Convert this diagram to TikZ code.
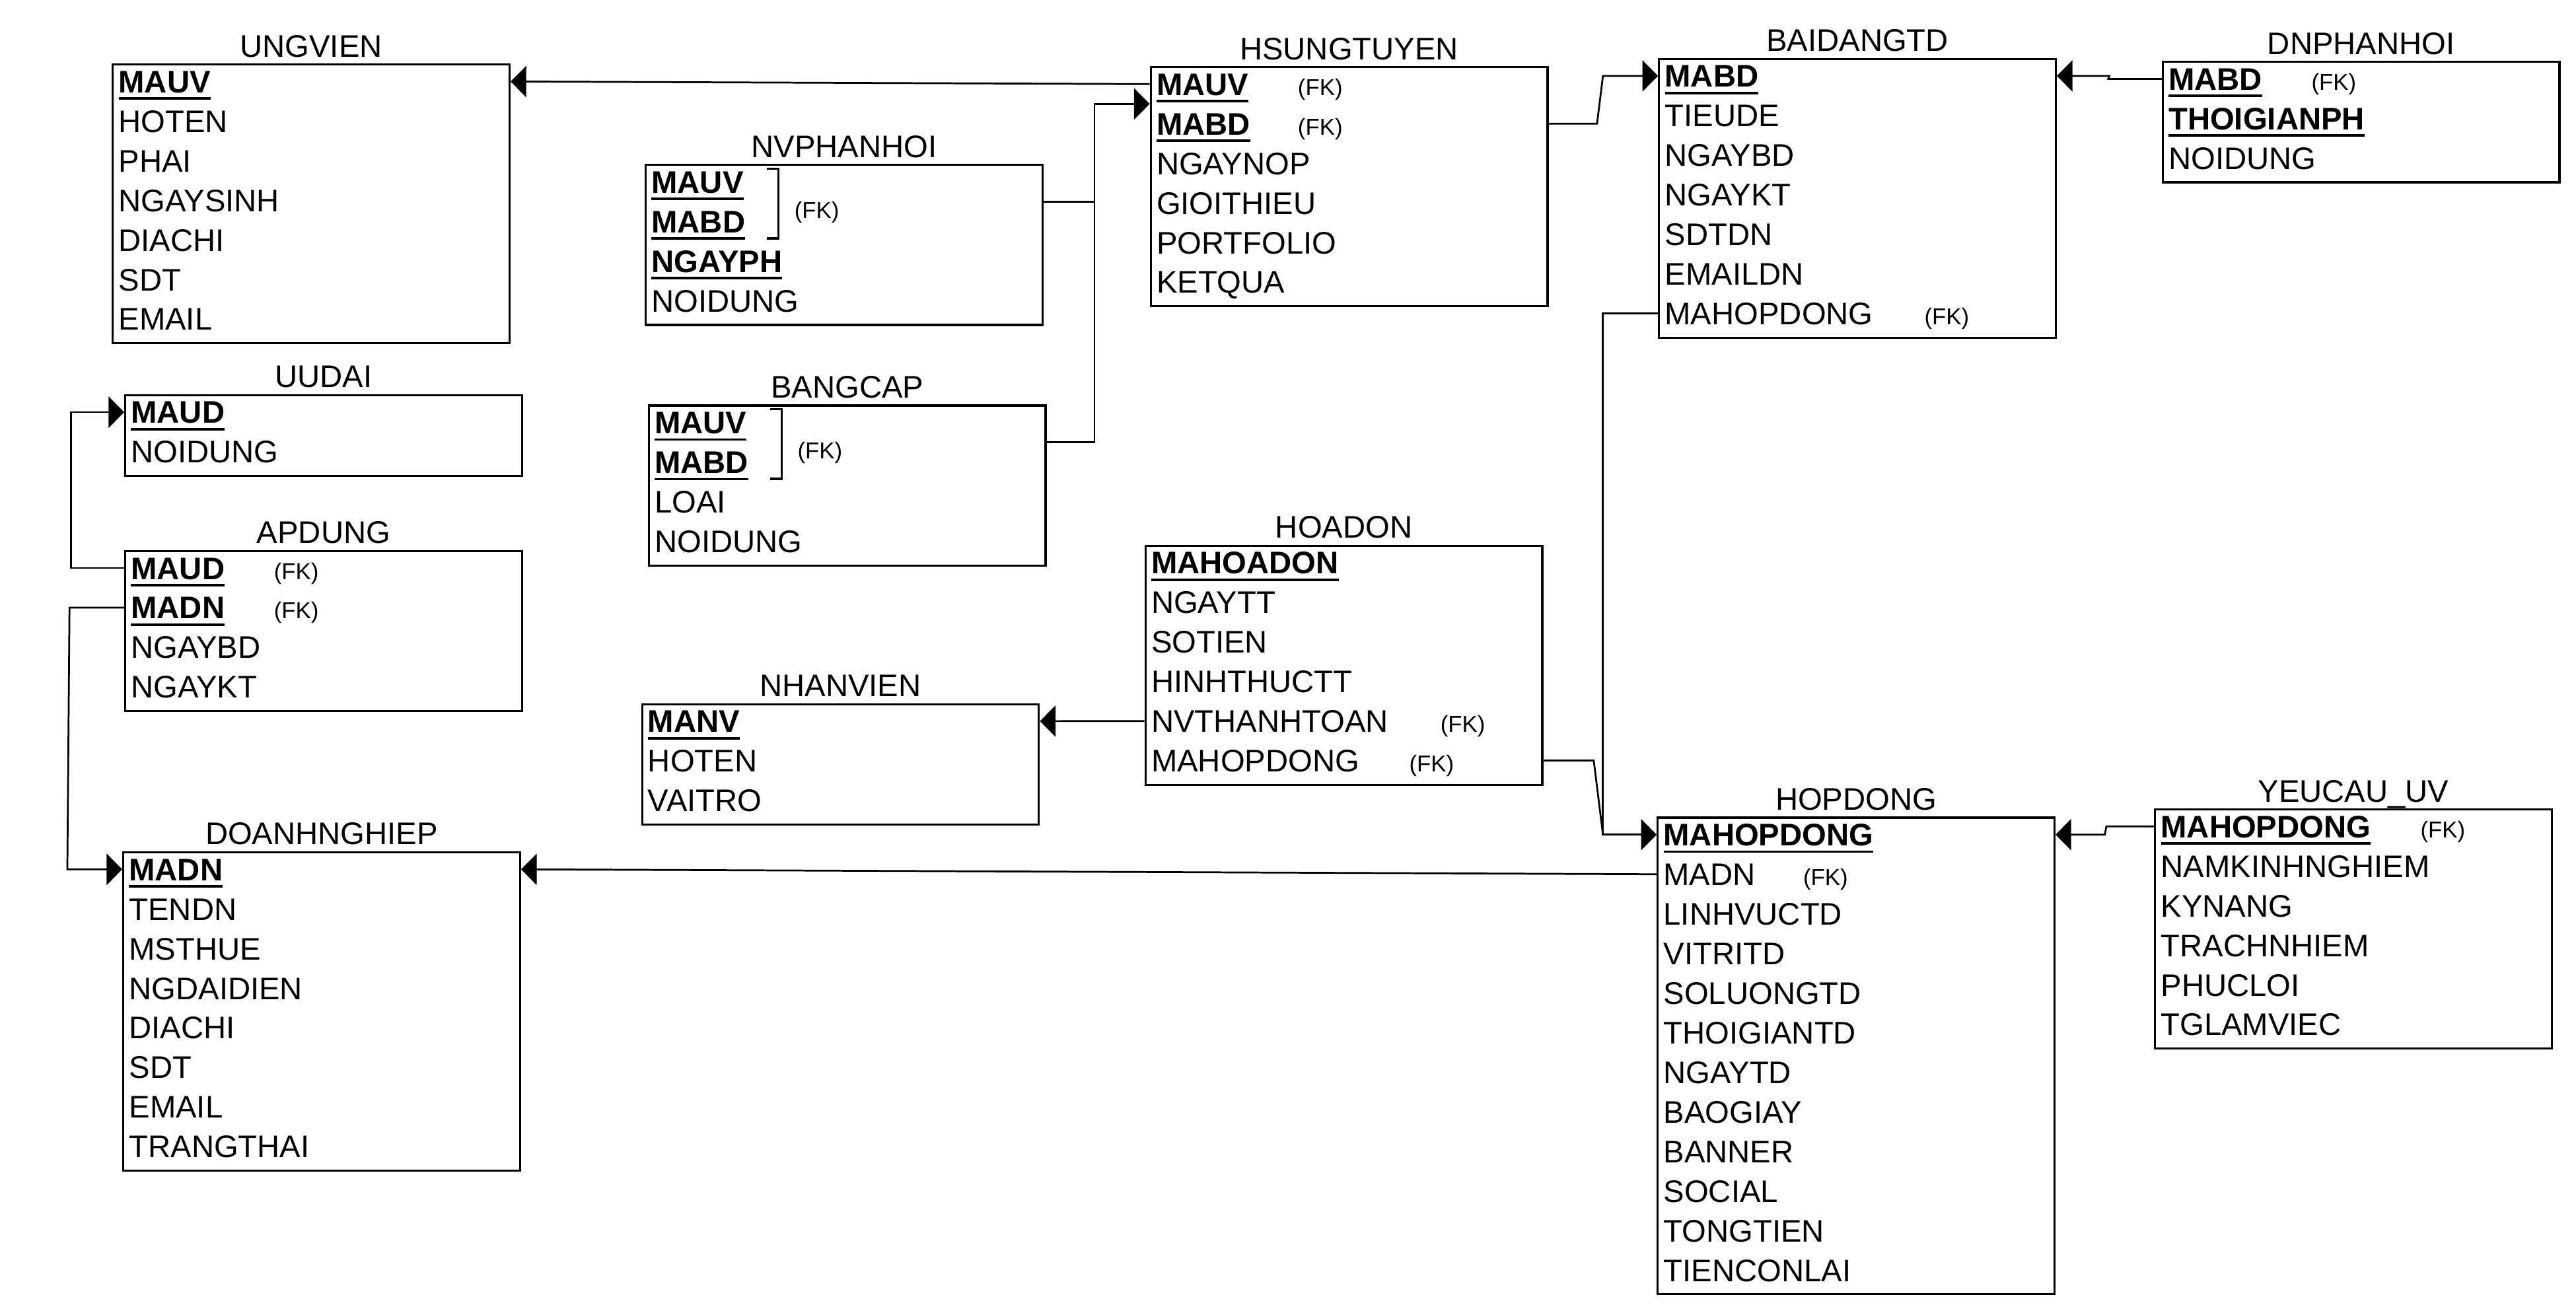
\documentclass[tikz,border=0pt]{standalone}
\usepackage{fontspec}
\setmainfont{Liberation Sans}
\usetikzlibrary{arrows.meta,calc}

% key field: bold with a thick underline
\newcommand\pkey[1]{{\bfseries\setbox0=\hbox{#1}\rlap{\vrule height -2.8pt depth 4.3pt width \wd0}\box0}}
\newcommand\fkfont{\fontsize{14}{16}\selectfont}
% field followed by (FK) at a fixed tab
\newcommand\fk[2]{\makebox[#1][l]{#2}{\fkfont(FK)}}

\tikzset{
  tbl/.style={draw, line width=1.3pt, anchor=north west, inner sep=0pt, minimum width=241.5pt},
  ttl/.style={anchor=base, inner sep=0pt, font=\fontsize{19}{24}\selectfont},
  fld/.style={anchor=base west, inner sep=0pt, text height=13.6pt, text depth=0pt, font=\fontsize{19}{24}\selectfont},
  rel/.style={line width=1.1pt},
  fkarrow/.style={rel, -{Triangle[length=9.5pt,width=19pt]}},
  brk/.style={line width=1.3pt},
}

% table: name, north west corner, title, number of fields, fields
\newcommand\entity[5]{%
  \node[tbl, minimum height=24.1pt*#4+1pt] (#1) at (#2) {};
  \node[ttl] (#1-t) at ($(#1.north)+(0,-4)$) {#3};
  \foreach \f [count=\i] in {#5}
    \node[fld] (#1\i) at ($(#1.north west)+(4,17.8+24.1*\i-24.1)$) {\f};
}

\begin{document}
\begin{tikzpicture}[x=1pt, y=-1pt]
\useasboundingbox (0,0) rectangle (1568,798);

\entity{ug}{68,38.6}{UNGVIEN}{7}{\pkey{MAUV},HOTEN,PHAI,NGAYSINH,DIACHI,SDT,EMAIL}
\entity{uu}{75.6,239.9}{UUDAI}{2}{\pkey{MAUD},NOIDUNG}
\entity{ap}{75.6,334.8}{APDUNG}{4}{\fk{87pt}{\pkey{MAUD}},\fk{87pt}{\pkey{MADN}},NGAYBD,NGAYKT}
\entity{dn}{74.4,518.2}{DOANHNGHIEP}{8}{\pkey{MADN},TENDN,MSTHUE,NGDAIDIEN,DIACHI,SDT,EMAIL,TRANGTHAI}
\entity{nvp}{392.4,99.8}{NVPHANHOI}{4}{\pkey{MAUV},\pkey{MABD},\pkey{NGAYPH},NOIDUNG}
\entity{bc}{394.3,246.2}{BANGCAP}{4}{\pkey{MAUV},\pkey{MABD},LOAI,NOIDUNG}
\entity{nv}{390.2,428}{NHANVIEN}{3}{\pkey{MANV},HOTEN,VAITRO}
\entity{hs}{699.8,40.2}{HSUNGTUYEN}{6}{\fk{86pt}{\pkey{MAUV}},\fk{86pt}{\pkey{MABD}},NGAYNOP,GIOITHIEU,PORTFOLIO,KETQUA}
\entity{hd}{696.6,331.5}{HOADON}{6}{\pkey{MAHOADON},NGAYTT,SOTIEN,HINHTHUCTT,\fk{176pt}{NVTHANHTOAN},\fk{157pt}{MAHOPDONG}}
\entity{bd}{1009.2,35.2}{BAIDANGTD}{7}{\pkey{MABD},TIEUDE,NGAYBD,NGAYKT,SDTDN,EMAILDN,\fk{158pt}{MAHOPDONG}}
\entity{dp}{1315.8,37}{DNPHANHOI}{3}{\fk{87pt}{\pkey{MABD}},\pkey{THOIGIANPH},NOIDUNG}
\entity{hp}{1008.4,497.1}{HOPDONG}{12}{\pkey{MAHOPDONG},\fk{85pt}{MADN},LINHVUCTD,VITRITD,SOLUONGTD,THOIGIANTD,NGAYTD,BAOGIAY,BANNER,SOCIAL,TONGTIEN,TIENCONLAI}
\entity{yc}{1311.1,492.1}{YEUCAU\_UV}{6}{\fk{158pt}{\pkey{MAHOPDONG}},NAMKINHNGHIEM,KYNANG,TRACHNHIEM,PHUCLOI,TGLAMVIEC}

% composite keys
\foreach \tb in {nvp,bc} {
  \draw[brk] ($(\tb.north west)+(74.5,3)$) -- ++(7,0) -- ++(0,42.3) -- ++(-7,0);
  \node[anchor=base west, inner sep=0pt, font=\fkfont] (\tb-fk) at ($(\tb.north west)+(91,33)$) {(FK)};
}

\coordinate (nvpk) at ($(nvp1)!.5!(nvp2)$);
\coordinate (bck) at ($(bc1)!.5!(bc2)$);
\coordinate (hsk) at ($(hs1)!.5!(hs2)$);
\coordinate (jn) at ($(nvpk -| nvp.east)+(31,0)$);

\draw[fkarrow] (hs1 -| hs.west) -- (ug1 -| ug.east);
\draw[fkarrow] (nvpk -| nvp.east) -- (jn) |- (hsk -| hs.west);
\draw[rel] (bck -| bc.east) -| (jn);
\draw[fkarrow] (hs2 -| hs.east) -- ++(29.5,0) -- ($(bd1 -| bd.west)+(-33.5,0)$) -- (bd1 -| bd.west);
\draw[fkarrow] (dp1 -| dp.west) -- ++(-32.5,0) -- ($(bd1 -| bd.east)+(32,0)$) -- (bd1 -| bd.east);
\draw[fkarrow] (bd7 -| bd.west) -- ++(-33.5,0) |- (hp1 -| hp.west);
\draw[rel] (hd6 -| hd.east) -- ++(30.7,0) -- ($(hp1 -| hp.west)+(-32.7,0)$);
\draw[fkarrow] (hd5 -| hd.west) -- (nv1 -| nv.east);
\draw[fkarrow] (hp2 -| hp.west) -- (dn1 -| dn.east);
\draw[fkarrow] (yc1 -| yc.west) -- ++(-29,0) -- ($(hp1 -| hp.east)+(30,0)$) -- (hp1 -| hp.east);
\draw[fkarrow] (ap1 -| ap.west) -- ++(-32.5,0) |- (uu1 -| uu.west);
\draw[fkarrow] (ap2 -| ap.west) -- ++(-33.3,0) -- ($(dn1 -| dn.west)+(-33.4,0)$) -- (dn1 -| dn.west);

\end{tikzpicture}
\end{document}
